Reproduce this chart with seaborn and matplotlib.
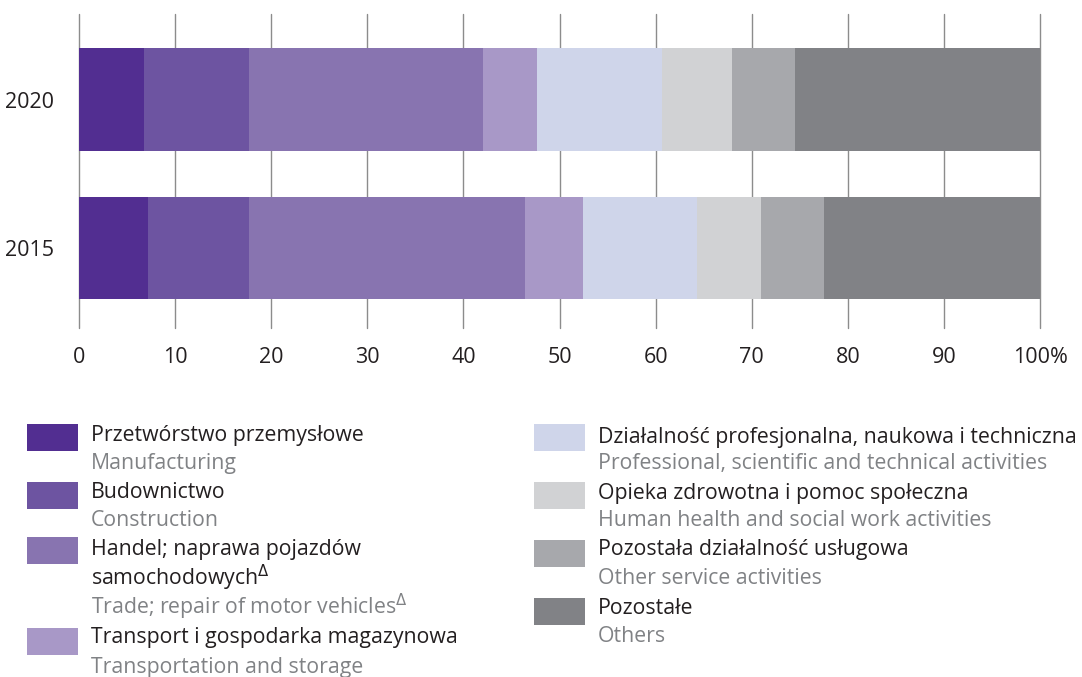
import matplotlib
matplotlib.use('Agg')
import matplotlib.pyplot as plt
import seaborn as sns
import pandas as pd
from matplotlib.patches import Rectangle

years = ['2020', '2015']
sectors_pl = ['Przetwórstwo przemysłowe', 'Budownictwo',
              'Handel; naprawa pojazdów\nsamochodowych$^{\\Delta}$',
              'Transport i gospodarka magazynowa',
              'Działalność profesjonalna, naukowa i techniczna',
              'Opieka zdrowotna i pomoc społeczna',
              'Pozostała działalność usługowa', 'Pozostałe']
sectors_en = ['Manufacturing', 'Construction',
              'Trade; repair of motor vehicles$^{\\Delta}$',
              'Transportation and storage',
              'Professional, scientific and technical activities',
              'Human health and social work activities',
              'Other service activities', 'Others']
share_2020 = [6.8, 10.9, 24.3, 5.7, 13.0, 7.2, 6.6, 25.5]
share_2015 = [7.2, 10.5, 28.7, 6.0, 11.9, 6.7, 6.5, 22.5]
colors = ['#522e91', '#6d54a1', '#8874b0', '#a898c7',
          '#cfd5ea', '#d1d2d4', '#a7a8ac', '#818286']

sns.set_style('white')
plt.rcParams['font.family'] = ['Open Sans', 'DejaVu Sans']
plt.rcParams['mathtext.fontset'] = 'dejavusans'

df = pd.DataFrame({'2020': share_2020, '2015': share_2015})
cum = df.cumsum()

W, H = 1082, 677
fig = plt.figure(figsize=(W / 100, H / 100), dpi=100)
ax = fig.add_axes([79 / W, 1 - 328 / H, (1040 - 79) / W, (328 - 14) / H])

# stacked bars: draw cumulative totals from the largest down
for i in range(len(colors) - 1, -1, -1):
    sns.barplot(x=[cum.loc[i, y] for y in years], y=years, order=years,
                orient='h', color=colors[i], saturation=1, width=0.69,
                linewidth=0, ax=ax)

ax.set_xlim(0, 100)
ax.set_ylim(1.539, -0.576)
ax.set_xticks(range(0, 101, 10))
ax.set_xticklabels([str(v) for v in range(0, 100, 10)] + ['100%'])
ax.set_axisbelow(True)
ax.xaxis.grid(True, color='#8c8c8c', lw=1)
for gl in ax.get_xgridlines():
    gl.set_clip_on(False)
ax.yaxis.grid(False)
for s in ax.spines.values():
    s.set_visible(False)
ax.set_xlabel('')
ax.set_ylabel('')
ax.tick_params(axis='x', length=0, pad=14, labelsize=15.5, labelcolor='#231f20')
ax.tick_params(axis='y', length=0, pad=18, labelsize=15.5, labelcolor='#231f20')

# legend, built by hand in two columns
sw_left = [(27, 424), (27, 482), (27, 537), (27, 628)]
sw_right = [(534, 424), (534, 482), (534, 540), (534, 598)]
txt_left = [(435, 463), (493, 520), (550, 607), (638, 667)]
txt_right = [(437, 463), (493, 520), (550, 578), (608, 637)]
line_gap = 28

for k in range(8):
    if k < 4:
        sx, sy = sw_left[k]
        tx = 91
        ty_pl, ty_en = txt_left[k]
    else:
        sx, sy = sw_right[k - 4]
        tx = 598
        ty_pl, ty_en = txt_right[k - 4]
    fig.patches.append(Rectangle((sx / W, 1 - (sy + 27) / H), 51 / W, 27 / H,
                                 transform=fig.transFigure, facecolor=colors[k],
                                 edgecolor='none'))
    for j, line in enumerate(sectors_pl[k].split('\n')):
        fig.text(tx / W, 1 - (ty_pl + j * line_gap) / H, line, fontsize=15.3,
                 color='#231f20', va='center', ha='left')
    fig.text(tx / W, 1 - ty_en / H, sectors_en[k], fontsize=15.3, color='#808285',
             va='center', ha='left')

fig.savefig('out.png', dpi=100)
